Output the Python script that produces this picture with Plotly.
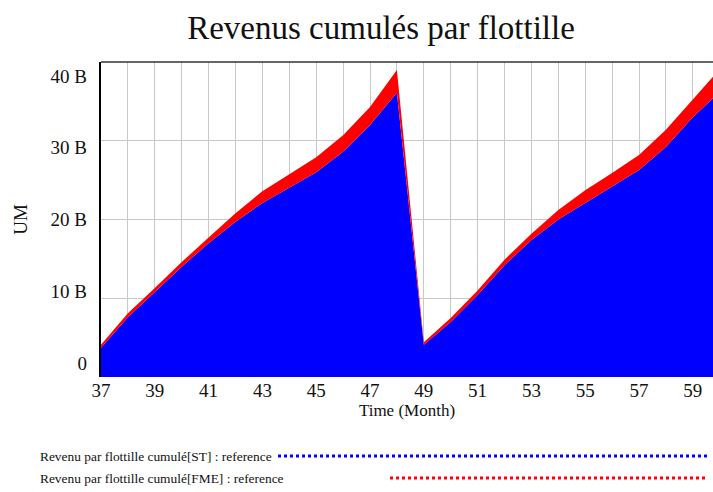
import plotly.graph_objects as go

# ---- data (values in billions of UM) ----
months = list(range(37, 61))
st_billions = [3.7, 7.6, 10.8, 14.0, 17.0, 19.7, 22.1, 24.0, 26.0, 28.6, 32.0, 36.1,
               4.1, 7.0, 10.4, 14.2, 17.4, 20.0, 22.1, 24.1, 26.3, 29.2, 33.0, 36.2]
fme_billions = [0.4, 0.5, 0.5, 0.6, 0.7, 1.1, 1.5, 1.8, 1.9, 2.1, 2.3, 2.9,
                0.3, 0.5, 0.6, 0.7, 0.8, 1.2, 1.6, 1.8, 1.9, 2.2, 2.2, 2.9]
x_tick_vals = list(range(37, 60, 2))
x_tick_text = [str(v) for v in x_tick_vals]
y_tick_vals = [0, 10e9, 20e9, 30e9, 40e9]
y_tick_text = ["0", "10 B", "20 B", "30 B", "40 B"]
series_names = ["Revenu par flottille cumulé[ST] : reference",
                "Revenu par flottille cumulé[FME] : reference"]
title_text = "Revenus cumulés par flottille"

st = [v * 1e9 for v in st_billions]
fme = [v * 1e9 for v in fme_billions]

BLUE = "#0000FF"
RED = "#FF0000"
SERIF = "Liberation Serif, Times New Roman, serif"
W, H = 713, 492
L, R, T, B = 101, 0, 62, 115
PW, PH = W - L - R, H - T - B


def px_x(px):
    return (px - L) / PW


def px_y(py):
    return (H - B - py) / PH


fig = go.Figure()
fig.add_trace(go.Scatter(x=months, y=st, name=series_names[0], mode="lines",
                         stackgroup="one", line=dict(width=0, color=BLUE),
                         fillcolor=BLUE, showlegend=False))
fig.add_trace(go.Scatter(x=months, y=fme, name=series_names[1], mode="lines",
                         stackgroup="one", line=dict(width=0, color=RED),
                         fillcolor=RED, showlegend=False))
# invisible helper trace carrying the left label axis
fig.add_trace(go.Scatter(x=[months[0]], y=[0], yaxis="y2", mode="markers",
                         marker=dict(opacity=0), hoverinfo="skip", showlegend=False))

grid = "#c8c8c8"
fig.update_layout(
    width=W, height=H, autosize=False,
    margin=dict(l=L, r=R, t=T, b=B, pad=0),
    paper_bgcolor="white", plot_bgcolor="white",
    font=dict(family=SERIF, color="#111111"),
    title=dict(text=title_text, x=381 / W, xref="container", xanchor="center",
               y=1 - 27 / H, yref="container", yanchor="middle",
               font=dict(family=SERIF, size=33, color="#111111")),
    xaxis=dict(range=[37, 37 + PW / 26.9], tickvals=x_tick_vals, ticktext=x_tick_text,
               showgrid=True, gridcolor=grid, gridwidth=1,
               minor=dict(dtick=1, tick0=37, showgrid=True, gridcolor=grid, gridwidth=1),
               zeroline=False, showline=False, ticks="",
               tickfont=dict(family=SERIF, size=19, color="#111111"),
               title=dict(text="Time (Month)", font=dict(family=SERIF, size=17, color="#111111"),
                          standoff=4)),
    yaxis=dict(range=[0, 40e9], tickvals=y_tick_vals, showticklabels=False,
               showgrid=True, gridcolor=grid, gridwidth=1, zeroline=False,
               showline=True, linecolor="black", linewidth=2, ticks="",
               title=dict(text="UM", font=dict(family=SERIF, size=19, color="#111111"),
                          standoff=66)),
    yaxis2=dict(overlaying="y", side="left", range=[-1.95e9, 41.95e9],
                tickvals=y_tick_vals, ticktext=y_tick_text, showgrid=False,
                zeroline=False, showline=False, ticks="", ticklabelstandoff=13,
                tickfont=dict(family=SERIF, size=19, color="#111111")),
)

# top frame line
fig.add_shape(type="line", xref="paper", yref="paper", x0=0, x1=1, y0=1, y1=1,
              line=dict(color="#333333", width=1.5))

# Vensim-style legend: text followed by a dotted sample line
legend_rows = [(456, 278, 708, BLUE), (478, 390, 705, RED)]
for name, (py, lx0, lx1, col) in zip(series_names, legend_rows):
    fig.add_annotation(text=name, xref="paper", yref="paper", x=px_x(38), y=px_y(py),
                       xanchor="left", yanchor="middle", showarrow=False,
                       font=dict(family=SERIF, size=13.4, color="#111111"))
    fig.add_shape(type="line", xref="paper", yref="paper", x0=px_x(lx0), x1=px_x(lx1),
                  y0=px_y(py), y1=px_y(py), line=dict(color=col, width=3, dash="3px,3px"))

fig.write_html("out.html", config={"displayModeBar": False},
               post_script="document.body.style.margin='0';document.body.style.padding='0';")
